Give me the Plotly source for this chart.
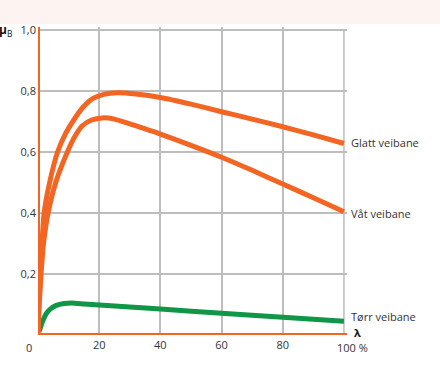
import plotly.graph_objects as go

# Slip ratio lambda (%) and braking coefficient mu_B
glatt_x = [0, 0.3, 0.8, 1.3, 2.0, 3.8, 6.4, 9, 12, 15, 18, 21.5, 26, 32, 40, 50, 60, 70, 80, 90, 100]
glatt_y = [0.0, 0.1, 0.2, 0.3, 0.4, 0.5, 0.6, 0.66, 0.71, 0.75, 0.776, 0.789, 0.794, 0.79, 0.779, 0.757, 0.732, 0.708, 0.683, 0.656, 0.628]

vaat_x = [0, 0.4, 1.0, 1.8, 3.3, 5.8, 9.6, 12, 14.5, 17.5, 21, 25, 30, 40, 50, 60, 70, 80, 90, 100]
vaat_y = [0.0, 0.1, 0.2, 0.3, 0.4, 0.5, 0.6, 0.65, 0.686, 0.705, 0.712, 0.708, 0.692, 0.659, 0.622, 0.583, 0.54, 0.495, 0.45, 0.404]

torr_x = [0.4, 1.5, 2.7, 4, 6, 8.5, 11, 15, 20, 30, 40, 60, 80, 100]
torr_y = [0.012, 0.045, 0.07, 0.085, 0.097, 0.103, 0.105, 0.102, 0.098, 0.092, 0.085, 0.071, 0.058, 0.045]

series_names = ["Glatt veibane", "Våt veibane", "Tørr veibane"]
x_ticks = [20, 40, 60, 80]
y_ticks = [0.2, 0.4, 0.6, 0.8, 1.0]
y_tick_text = ["0,2", "0,4", "0,6", "0,8", "1,0"]

X_MAX = 101
Y_MAX = 1.01

ORANGE = "#f26522"
GREEN = "#0f9647"
GRID = "#bdbdbd"
TEXT = "#333333"
FONT = "Open Sans"

fig = go.Figure()

for xs, ys, col, name in [
    (torr_x, torr_y, GREEN, series_names[2]),
    (vaat_x, vaat_y, ORANGE, series_names[1]),
    (glatt_x, glatt_y, ORANGE, series_names[0]),
]:
    fig.add_trace(go.Scatter(x=xs, y=ys, mode="lines", name=name,
                             line=dict(color=col, width=5, shape="spline", smoothing=0.6),
                             showlegend=False, hoverinfo="skip", cliponaxis=False))

fig.update_layout(
    width=440, height=382,
    margin=dict(l=38, r=93, t=27, b=47),
    paper_bgcolor="white", plot_bgcolor="white",
    font=dict(family=FONT, size=11, color=TEXT),
    xaxis=dict(range=[0, X_MAX], tickvals=x_ticks, ticktext=[str(v) for v in x_ticks],
               showgrid=True, gridcolor=GRID, gridwidth=1.5, zeroline=False,
               showline=False, ticks="", ticklabelstandoff=2,
               tickfont=dict(family=FONT, size=11, color=TEXT)),
    yaxis=dict(range=[0, Y_MAX], tickvals=y_ticks, ticktext=y_tick_text,
               showgrid=True, gridcolor=GRID, gridwidth=1.5, zeroline=False,
               showline=False, ticks="", ticklabelstandoff=1,
               tickfont=dict(family=FONT, size=11, color=TEXT)),
)

# pale band at the top
fig.add_shape(type="rect", xref="paper", yref="paper", x0=-0.2, x1=1.5, y0=1.0097, y1=1.2,
              fillcolor="#fdf4f2", line=dict(width=0), layer="below")
# vertical grid line at 100
fig.add_shape(type="line", xref="x", yref="y", x0=100, x1=100, y0=0, y1=1.0,
              line=dict(color=GRID, width=1.5), layer="below")
# orange axis lines
fig.add_shape(type="line", xref="x", yref="y", x0=0, x1=0, y0=0, y1=Y_MAX,
              line=dict(color=ORANGE, width=4), layer="above")
fig.add_shape(type="line", xref="x", yref="y", x0=0, x1=X_MAX, y0=0, y1=0,
              line=dict(color=ORANGE, width=4), layer="above")


def ann(text, x, y, xanchor="left", size=11, color=TEXT):
    # positions given in data units, converted to paper so they are not hidden off-axis
    fig.add_annotation(text=text, x=x / X_MAX, y=y / Y_MAX, xref="paper", yref="paper",
                       xanchor=xanchor, yanchor="middle", showarrow=False, borderpad=0,
                       font=dict(family=FONT, size=size, color=color))


ann(series_names[0], 102, glatt_y[-1] + 0.002)
ann(series_names[1], 102, vaat_y[-1] - 0.005)
ann(series_names[2], 102, torr_y[-1] + 0.015)
ann("<b>λ</b>", 102.8, 0.008, size=11, color="#111111")
ann("0", -3, -0.042, xanchor="center")
ann("100 %", 97.3, -0.042)
ann("<b>μ</b><sub>B</sub>", -13.2, 1.0, size=12, color="#111111")

fig.write_html("out.html", config={"displayModeBar": False},
               post_script="document.body.style.margin='0';document.body.style.overflow='hidden';")
